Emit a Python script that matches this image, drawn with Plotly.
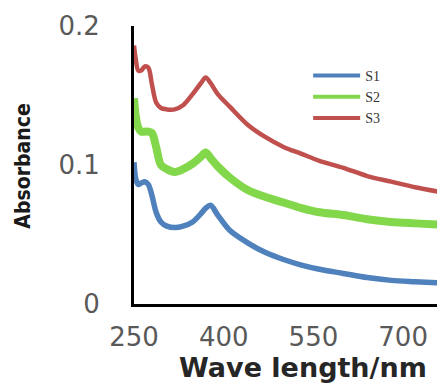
import plotly.graph_objects as go

# Wavelength grid (nm)
wavelength = [250, 253, 257, 262, 268, 274, 280, 287, 295, 305, 318, 332, 348, 362,
              370, 378, 390, 410, 440, 470, 500, 530, 560, 600, 640, 680, 720, 770]

s1 = [0.102, 0.090, 0.086, 0.087, 0.088, 0.086, 0.078, 0.066, 0.059, 0.056, 0.055, 0.056,
      0.059, 0.065, 0.069, 0.071, 0.064, 0.053, 0.044, 0.037, 0.032, 0.028, 0.025, 0.022,
      0.019, 0.017, 0.016, 0.015]
s2 = [0.148, 0.135, 0.127, 0.124, 0.124, 0.124, 0.123, 0.113, 0.100, 0.097, 0.095, 0.097,
      0.101, 0.106, 0.109, 0.105, 0.099, 0.091, 0.082, 0.077, 0.073, 0.069, 0.066, 0.064,
      0.061, 0.059, 0.058, 0.057]
s3 = [0.186, 0.176, 0.168, 0.168, 0.171, 0.170, 0.158, 0.145, 0.141, 0.140, 0.140, 0.143,
      0.151, 0.159, 0.163, 0.159, 0.151, 0.142, 0.129, 0.120, 0.113, 0.108, 0.103, 0.098,
      0.092, 0.088, 0.084, 0.080]

series_names = ["S1", "S2", "S3"]
x_ticks = [250, 400, 550, 700]
y_ticks = [0, 0.1, 0.2]
y_tick_text = ["0", "0.1", "0.2"]

colors = ["#4f81bd", "#82d84a", "#c0504d"]
widths = [5.5, 8, 4.5]

fig = go.Figure()
for name, vals, c, w in zip(series_names, [s1, s2, s3], colors, widths):
    fig.add_trace(go.Scatter(x=wavelength, y=vals, mode="lines", name=name,
                             line=dict(color=c, width=w, shape="spline", smoothing=0.9),
                             showlegend=False))
# legend entries (thin lines like the reference legend)
for name, c in zip(series_names, colors):
    fig.add_trace(go.Scatter(x=[None], y=[None], mode="lines", name=name,
                             line=dict(color=c, width=4)))

tick_font = dict(family="DejaVu Sans", size=26, color="#595959")

# the page has an 8px body margin, so the figure is 8px smaller and offset
fig.update_layout(
    width=437, height=379, autosize=False,
    margin=dict(l=126, r=0, t=18, b=83, pad=0),
    paper_bgcolor="white", plot_bgcolor="white",
    showlegend=True,
    legend=dict(x=0.56, y=0.878, xanchor="left", yanchor="top",
                font=dict(family="Liberation Serif", size=14, color="#333333"),
                bgcolor="rgba(0,0,0,0)", tracegroupgap=0, itemwidth=47),
    xaxis=dict(range=[250, 770], tickvals=x_ticks, showgrid=False, zeroline=False,
               showline=True, linecolor="black", linewidth=3,
               ticks="outside", ticklen=8, tickcolor="rgba(0,0,0,0)",
               tickfont=tick_font, automargin=False),
    yaxis=dict(range=[0, 0.2], tickvals=y_ticks, ticktext=y_tick_text, showgrid=False,
               zeroline=False, showline=True, linecolor="black", linewidth=3,
               ticks="outside", ticklen=26, tickcolor="rgba(0,0,0,0)",
               tickfont=tick_font, automargin=False),
    annotations=[
        dict(text="<b>Absorbance</b>", textangle=-90, xref="paper", yref="paper",
             x=-0.355, y=0.496, xanchor="center", yanchor="middle", showarrow=False,
             font=dict(family="DejaVu Sans Condensed", size=21, color="#1a1a1a")),
        dict(text="<b>Wave length/nm</b>", xref="paper", yref="paper",
             x=0.545, y=-0.227, xanchor="center", yanchor="middle", showarrow=False,
             font=dict(family="DejaVu Sans", size=27, color="#262626")),
    ],
)

fig.write_html("out.html")
